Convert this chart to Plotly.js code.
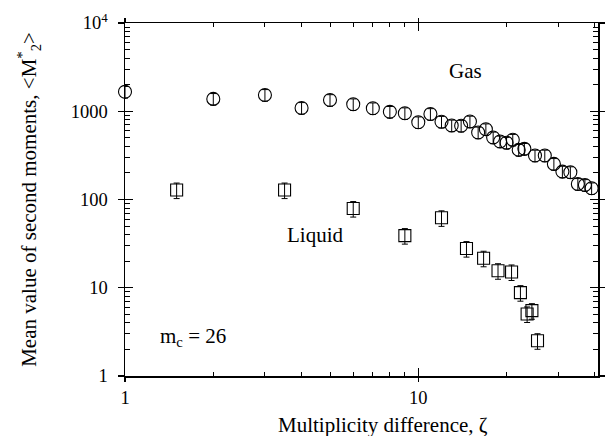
<!DOCTYPE html>
<html>
<head>
<meta charset="utf-8">
<script src="https://cdn.plot.ly/plotly-3.0.1.min.js"></script>
<style>html,body{margin:0;padding:0;background:#fff;}#chart{width:605px;height:436px;}</style>
</head>
<body>
<div id="chart"></div>
<script>
// Gas phase (circles)
const gasZeta = [1, 2, 3, 4, 5, 6, 7, 8, 9, 10, 11, 12, 13, 14, 15, 16, 17, 18, 19, 20, 21, 22, 23, 25, 27, 29, 31, 33, 35, 37, 39];
const gasM2   = [1660, 1380, 1530, 1090, 1340, 1200, 1080, 985, 950, 750, 930, 760, 690, 685, 765, 575, 625, 505, 455, 440, 475, 365, 375, 315, 315, 253, 207, 204, 150, 146, 134];
const gasErrPct = 15;

// Liquid phase (squares)
const liqZeta = [1.5, 3.5, 6, 9, 12, 14.6, 16.7, 18.7, 20.8, 22.3, 23.5, 24.4, 25.5];
const liqM2   = [128, 128, 79, 39, 62, 27.8, 21.6, 15.6, 15.1, 8.8, 5.05, 5.5, 2.51];
const liqErrPct = 20;

// Axis ticks
const xTickVals = [1, 10];
const xTickText = ['1', '10'];
const yTickVals = [1, 10, 100, 1000, 10000];
const yTickText = ['1', '10', '100', '1000', '10<sup>4</sup>'];
const xMinor = [2, 3, 4, 5, 6, 7, 8, 9, 20, 30, 40];
const yMinor = [2,3,4,5,6,7,8,9,20,30,40,50,60,70,80,90,200,300,400,500,600,700,800,900,2000,3000,4000,5000,6000,7000,8000,9000];

const FONT = 'Liberation Serif, Times New Roman, serif';
const xRange = [0, Math.log10(41)];
const yRange = [0, 4];

const traces = [
  {
    x: gasZeta, y: gasM2, type: 'scatter', mode: 'markers', name: 'Gas', cliponaxis: false,
    marker: {symbol: 'circle-open', size: 13, color: '#000', line: {width: 1.1, color: '#000'}},
    error_y: {type: 'percent', value: gasErrPct, color: '#000', thickness: 1, width: 3},
    showlegend: false
  },
  {
    x: liqZeta, y: liqM2, type: 'scatter', mode: 'markers', name: 'Liquid', cliponaxis: false,
    marker: {symbol: 'square-open', size: 12, color: '#000', line: {width: 1.1, color: '#000'}},
    error_y: {type: 'percent', value: liqErrPct, color: '#000', thickness: 1, width: 3},
    showlegend: false
  },
  { x: [], y: [], xaxis: 'x2', yaxis: 'y2', type: 'scatter', mode: 'markers', showlegend: false, hoverinfo: 'skip' }
];

const axCommon = {
  showgrid: false, zeroline: false, linecolor: '#000', linewidth: 1.5,
  tickcolor: '#000', tickwidth: 1.3
};

const layout = {
  width: 605, height: 436,
  margin: {l: 125, r: 7, t: 23, b: 60},
  paper_bgcolor: '#fff', plot_bgcolor: '#fff',
  font: {family: FONT, size: 18.5, color: '#000'},
  showlegend: false,
  xaxis: Object.assign({}, axCommon, {
    type: 'log', range: xRange, tickmode: 'array', tickvals: xTickVals, ticktext: xTickText,
    ticks: 'outside', ticklen: 4, mirror: 'allticks', showline: true,
    tickfont: {family: FONT, size: 18.5},
    minor: {ticks: 'inside', ticklen: 4, tickvals: xMinor, tickcolor: '#000', tickwidth: 1}
  }),
  yaxis: Object.assign({}, axCommon, {
    type: 'log', range: yRange, tickmode: 'array', tickvals: yTickVals, ticktext: yTickText,
    ticks: 'outside', ticklen: 6, mirror: 'allticks', showline: true, ticklabelstandoff: 6,
    tickfont: {family: FONT, size: 18.5},
    minor: {ticks: 'inside', ticklen: 5, tickvals: yMinor, tickcolor: '#000', tickwidth: 1},
    title: {text: 'Mean value of second moments, &lt;M<sup>*</sup><sub>2</sub>&gt;', font: {family: FONT, size: 21}, standoff: 28}
  }),
  xaxis2: Object.assign({}, axCommon, {
    type: 'log', range: xRange, overlaying: 'x', anchor: 'y2', side: 'bottom',
    tickmode: 'array', tickvals: xTickVals, ticks: 'inside', ticklen: 8, mirror: 'ticks',
    showticklabels: false, showline: false
  }),
  yaxis2: Object.assign({}, axCommon, {
    type: 'log', range: yRange, overlaying: 'y', anchor: 'x2', side: 'left',
    tickmode: 'array', tickvals: yTickVals, ticks: 'inside', ticklen: 8, mirror: 'ticks',
    showticklabels: false, showline: false
  }),
  annotations: [
    {text: 'Gas', xref: 'paper', yref: 'paper', x: 0.7196, y: 0.864, xanchor: 'center', yanchor: 'middle', showarrow: false, font: {family: FONT, size: 21}},
    {text: 'Liquid', xref: 'paper', yref: 'paper', x: 0.401, y: 0.399, xanchor: 'center', yanchor: 'middle', showarrow: false, font: {family: FONT, size: 21}},
    {text: 'm<sub>c</sub> = 26', xref: 'paper', yref: 'paper', x: 0.143, y: 0.11, xanchor: 'center', yanchor: 'middle', showarrow: false, font: {family: FONT, size: 21}},
    {text: 'Multiplicity difference, ζ', xref: 'paper', yref: 'paper', x: 0.546, y: -0.139, xanchor: 'center', yanchor: 'middle', showarrow: false, font: {family: FONT, size: 21}}
  ]
};

Plotly.newPlot('chart', traces, layout, {staticPlot: true, displayModeBar: false});
</script>
</body>
</html>
